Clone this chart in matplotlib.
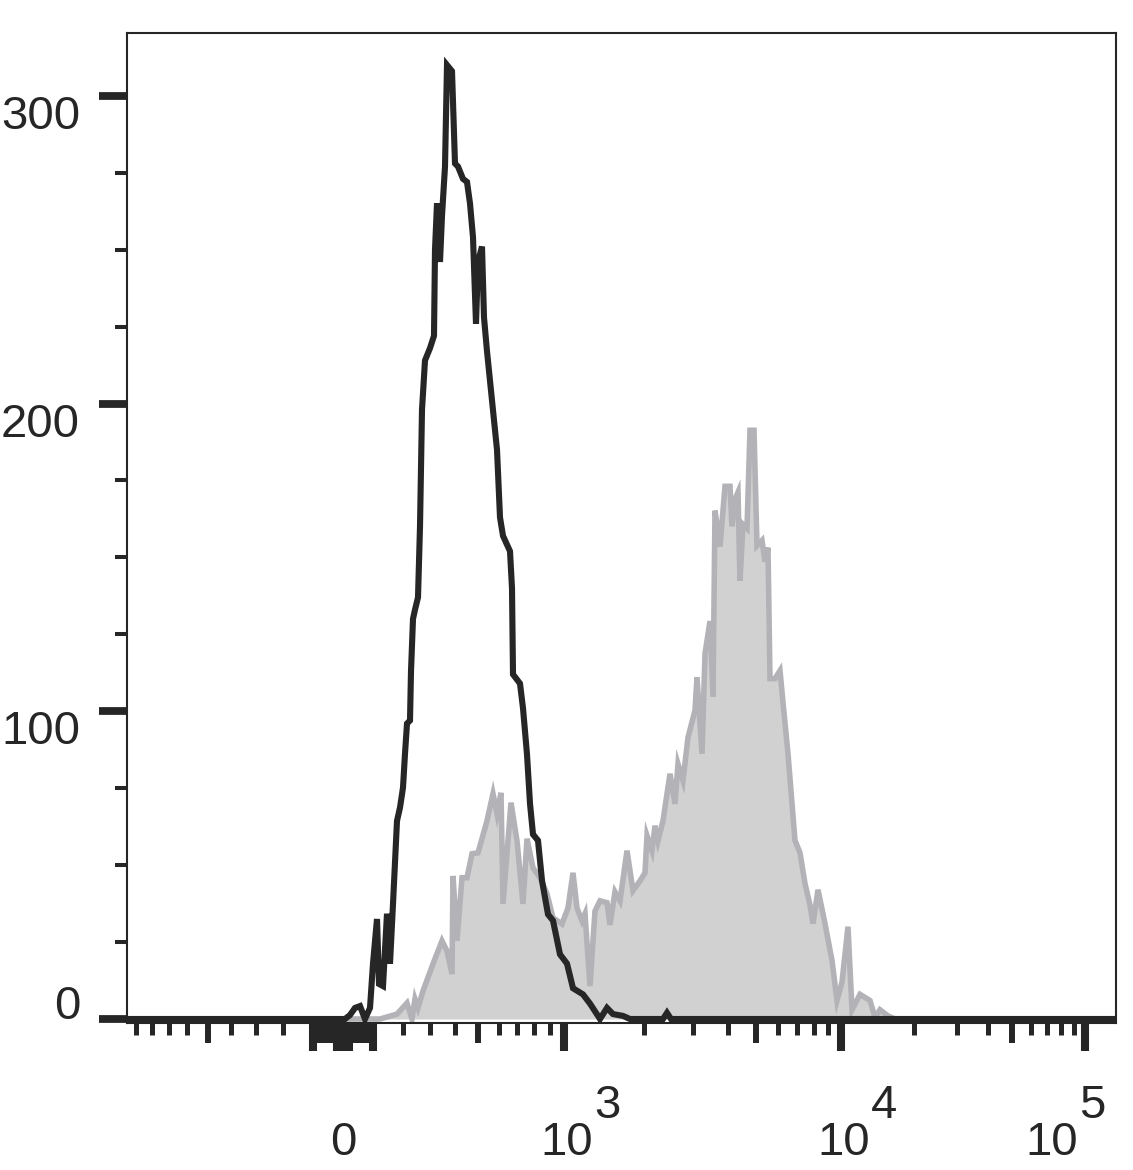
import matplotlib
matplotlib.use("Agg")
import matplotlib.pyplot as plt
import numpy as np

plt.rcParams["font.family"] = ["Liberation Sans", "DejaVu Sans"]

INK = "#262626"
FILL = "#d1d1d1"
EDGE = "#b3b3b7"

# x is the display channel across the plot (0..989), y is the event count
UNSTAINED_CH = [0, 218, 223, 228, 233, 238, 243, 246, 250, 252, 256, 260, 263, 266, 270, 273, 276, 278,
                280, 283, 284, 286, 288, 291, 293, 295, 298, 303, 307, 308, 310, 313, 315, 318, 320, 325,
                328, 331, 336, 340, 343, 346, 349, 351, 355, 357, 360, 365, 370, 373, 376, 383, 385, 386,
                393, 396, 400, 403, 406, 411, 415, 421, 426, 433, 440, 446, 456, 463, 473, 480, 486, 496,
                503, 536, 540, 544, 989]
UNSTAINED_COUNT = [0, 0, 1.3, 3.6, 4.2, 0, 3.6, 18, 32.5, 11.4, 10.7, 34.2, 18, 37.4, 64.4, 68.7, 75.2, 86.2,
                   96, 97, 113, 130, 133, 137, 160, 198, 214, 218, 222, 250, 265, 246, 261, 277, 310, 308,
                   278, 277, 273, 272, 265, 254, 226, 246, 251, 228, 217, 201, 185, 163, 157, 152, 140, 112,
                   109, 101, 86, 70, 60, 58, 45, 34, 32, 21, 18, 10, 8, 5, 0, 3.6, 1.6, 1,
                   0, 0, 2, 0, 0]

STAINED_CH = [0, 253, 270, 280, 285, 288, 291, 296, 306, 315, 320, 325, 326, 330, 335, 340, 345, 351,
              360, 366, 370, 374, 376, 384, 390, 396, 400, 406, 413, 420, 426, 435, 441, 446, 450, 455,
              458, 463, 468, 473, 480, 483, 488, 493, 500, 506, 513, 518, 520, 525, 528, 531, 536, 543,
              548, 551, 556, 561, 568, 570, 575, 578, 583, 586, 588, 593, 598, 603, 605, 608, 611, 613,
              616, 620, 623, 627, 630, 635, 638, 641, 643, 648, 653, 656, 661, 665, 668, 673, 678, 683,
              686, 691, 698, 705, 710, 715, 721, 725, 733, 743, 748, 753, 761, 768, 989]
STAINED_COUNT = [0, 0, 1.6, 5.2, 0, 6.5, 3.6, 9.1, 17.9, 25.4, 22.1, 14.6, 46.5, 25.4, 45.9, 45.9, 53.7, 54.0,
                 64.4, 73.2, 66.7, 73.5, 37.4, 70.3, 57.9, 37.4, 58.6, 49.1, 45.9, 40.7, 32.9, 30.9, 36.1, 47.5, 36.1, 31.9,
                 34.2, 10.7, 35.1, 38.4, 37.8, 30.6, 41.3, 38.4, 54.7, 41.7, 44.9, 47.5, 59.6, 54.7, 62.8, 57.9, 64.4, 79.7,
                 69.9, 82.9, 77.5, 91.5, 100.3, 111.0, 86.2, 118.7, 129.3, 104.8, 165.2, 153.5, 173.1, 173.1, 160.1, 168.9, 171.2, 142.4,
                 160.7, 159.4, 191.3, 191.3, 153.8, 155.5, 148.6, 153.2, 110.6, 110.6, 113.2, 102.8, 86.2, 70.0, 58, 54, 44, 37,
                 31, 42, 31, 19, 6, 12, 30, 3, 8, 6, 0.5, 3, 1, 0, 0]

Y_MAJOR = [0, 100, 200, 300]
Y_MINOR = [25, 50, 75, 125, 150, 175, 225, 250, 275]
X_DECADES = [3, 4, 5]

# biexponential axis: tick values sorted by how long the tick is drawn
X_LONG = [-100, -20, -10, 0, 10, 20, 100, 1e3, 1e4, 1e5]
X_MID = [-500, -90, -80, -70, -60, -50, -40, -30, 30, 40, 50, 60, 70, 80, 90, 500, 5e3, 5e4]
X_SHORT = ([-900, -800, -700, -600, -400, -300, -200, 200, 300, 400, 600, 700, 800, 900]
           + [2e3, 3e3, 4e3, 6e3, 7e3, 8e3, 9e3]
           + [2e4, 3e4, 4e4, 6e4, 7e4, 8e4, 9e4])


def biex(v):
    # asinh with width 500, pinned so 0 / 1e3 / 1e4 / 1e5 sit on their channels
    u = np.arcsinh(np.asarray(v, dtype=float) / 500.0)
    anchor_u = np.arcsinh(np.array([-1e3, 0.0, 1e3, 1e4, 1e5]) / 500.0)
    anchor_ch = np.array([-5.0, 216.0, 437.0, 714.0, 958.0])
    return np.interp(u, anchor_u, anchor_ch)


fig = plt.figure(figsize=(11.33, 11.70), dpi=100)
ax = fig.add_axes([127 / 1133, 1 - 1023 / 1170, 989 / 1133, 990 / 1170])

ax.fill_between(STAINED_CH, STAINED_COUNT, 0, color=FILL, lw=0, zorder=1)
ax.plot(STAINED_CH, STAINED_COUNT, color=EDGE, lw=4.0, solid_joinstyle="miter", zorder=2)
ax.plot(UNSTAINED_CH, UNSTAINED_COUNT, color=INK, lw=4.4, solid_joinstyle="miter", zorder=3)

ax.set_xlim(0, 989)
ax.set_ylim(-1.3, 320.4)

for sp in ax.spines.values():
    sp.set_linewidth(1.5)
    sp.set_color(INK)

ax.set_yticks(Y_MAJOR)
ax.set_yticks(Y_MINOR, minor=True)
ax.set_xticks(biex(X_LONG))
ax.set_xticks(biex(X_SHORT), minor=True)
ax.tick_params(axis="y", which="major", length=20.2, width=5.6, colors=INK, labelleft=False)
ax.tick_params(axis="y", which="minor", length=8.6, width=2.9, colors=INK)
ax.tick_params(axis="x", which="major", length=20.2, width=5.8, colors=INK, labelbottom=False)
ax.tick_params(axis="x", which="minor", length=8.6, width=3.6, colors=INK)

mid = ax.secondary_xaxis("bottom")
mid.set_ticks(biex(X_MID))
mid.tick_params(length=14.4, width=4.3, colors=INK, labelbottom=False)
mid.spines["bottom"].set_visible(False)

for v in Y_MAJOR:
    dy = 0 if v == 0 else -33
    ax.annotate(str(v), xy=(0, v), xycoords=("axes fraction", "data"), xytext=(-47, dy),
                textcoords="offset pixels", ha="right", va="baseline", fontsize=34, color=INK)

ax.annotate("0", xy=(biex(0), 0), xycoords=("data", "axes fraction"), xytext=(0, -132),
            textcoords="offset pixels", ha="center", va="baseline", fontsize=34, color=INK)
for d in X_DECADES:
    dx = -33 if d == X_DECADES[-1] else 3
    pos = float(biex(10.0 ** d))
    ax.annotate("10", xy=(pos, 0), xycoords=("data", "axes fraction"), xytext=(dx, -132),
                textcoords="offset pixels", ha="center", va="baseline", fontsize=34, color=INK)
    ax.annotate(str(d), xy=(pos, 0), xycoords=("data", "axes fraction"), xytext=(dx + 27, -95),
                textcoords="offset pixels", ha="left", va="baseline", fontsize=34, color=INK)

fig.savefig("out.png", dpi=100, facecolor="white")
